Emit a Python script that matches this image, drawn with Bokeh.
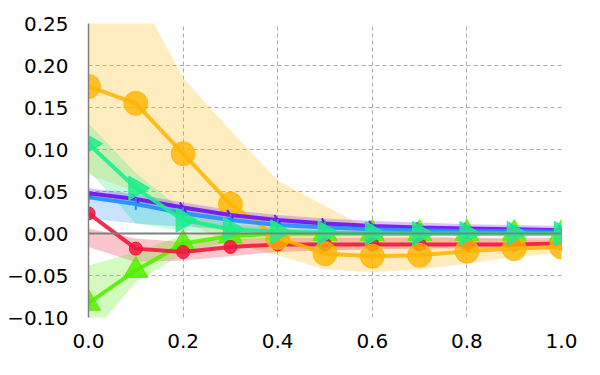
from bokeh.plotting import figure
from bokeh.embed import file_html
from bokeh.resources import INLINE
from bokeh.models import FixedTicker, CustomJSTickFormatter, Span

x = [0.0, 0.1, 0.2, 0.3, 0.4, 0.5, 0.6, 0.7, 0.8, 0.9, 1.0]

orange = [0.175, 0.155, 0.095, 0.035, -0.005, -0.024, -0.027, -0.026, -0.021, -0.018, -0.016]
orange_hi = [0.32, 0.29, 0.185, 0.123, 0.063, 0.033, 0.004, -0.003, -0.006, -0.007, -0.008]
orange_lo = [0.07, 0.05, 0.015, -0.012, -0.026, -0.043, -0.046, -0.043, -0.036, -0.028, -0.023]

red = [0.024, -0.018, -0.022, -0.016, -0.013, -0.013, -0.013, -0.013, -0.013, -0.013, -0.012]
red_hi = [0.006, -0.006, -0.01, -0.007, -0.005, -0.005, -0.005, -0.005, -0.005, -0.005, -0.005]
red_lo = [-0.016, -0.034, -0.032, -0.027, -0.022, -0.02, -0.019, -0.018, -0.018, -0.018, -0.018]

lime = [-0.083, -0.044, -0.012, -0.003, 0.0, 0.0, 0.0, 0.0, 0.0, 0.0, 0.0]
lime_hi = [-0.038, -0.022, -0.002, 0.003, 0.003, 0.002, 0.002, 0.002, 0.002, 0.002, 0.002]
lime_lo = [-0.125, -0.058, -0.024, -0.009, -0.005, -0.004, -0.003, -0.003, -0.003, -0.003, -0.003]

spring = [0.107, 0.054, 0.016, 0.005, 0.002, 0.001, 0.0, 0.0, 0.0, 0.0, 0.0]
spring_hi = [0.131, 0.072, 0.027, 0.011, 0.006, 0.004, 0.003, 0.003, 0.003, 0.003, 0.003]
spring_lo = [0.075, 0.012, 0.003, -0.001, -0.002, -0.002, -0.002, -0.002, -0.002, -0.002, -0.002]

violet = [0.048, 0.041, 0.031, 0.022, 0.016, 0.012, 0.009, 0.007, 0.006, 0.005, 0.004]
violet_hi = [0.054, 0.047, 0.037, 0.028, 0.022, 0.018, 0.015, 0.013, 0.011, 0.01, 0.009]
violet_lo = [0.042, 0.035, 0.025, 0.017, 0.011, 0.008, 0.005, 0.004, 0.003, 0.002, 0.002]

blue = [0.043, 0.035, 0.024, 0.016, 0.01, 0.007, 0.005, 0.004, 0.003, 0.003, 0.002]
blue_hi = [0.05, 0.042, 0.032, 0.023, 0.015, 0.011, 0.008, 0.006, 0.005, 0.005, 0.004]
blue_lo = [0.018, 0.012, 0.008, 0.005, 0.003, 0.002, 0.001, 0.0, 0.0, 0.0, 0.0]

x_ticks = [0.0, 0.2, 0.4, 0.6, 0.8, 1.0]
y_ticks = [-0.10, -0.05, 0.0, 0.05, 0.10, 0.15, 0.20, 0.25]

p = figure(width=592, height=367, x_range=(0, 1), y_range=(-0.10, 0.25),
           output_backend="svg", toolbar_location=None,
           min_border_left=88, min_border_right=31, min_border_top=23, min_border_bottom=50)
p.outline_line_color = None

xa = p.xaxis[0]
ya = p.yaxis[0]
xa.ticker = FixedTicker(ticks=x_ticks)
ya.ticker = FixedTicker(ticks=y_ticks)
xa.formatter = CustomJSTickFormatter(code="return tick.toFixed(1).replace('-', '\u2212');")
ya.formatter = CustomJSTickFormatter(code="return tick.toFixed(2).replace('-', '\u2212');")
for ax in (xa, ya):
    ax.major_tick_line_color = None
    ax.minor_tick_line_color = None
    ax.major_label_text_font = "DejaVu Sans"
    ax.major_label_text_font_size = "20px"
    ax.major_label_text_color = "black"
xa.axis_line_color = None
ya.axis_line_color = "#808080"
ya.axis_line_width = 1.5
xa.major_label_standoff = 10
ya.major_label_standoff = 14

p.grid.grid_line_color = "#aaaaaa"
p.grid.grid_line_dash = "4 3"
p.grid.grid_line_width = 1

p.add_layout(Span(location=0, dimension="width", line_color="#808080", line_width=2))

C_OR = "#ffb400"
C_RED = "#f0183c"
C_LIME = "#55ee00"
C_SPR = "#1aee8c"
C_VIO = "#6e10f5"
C_BLU = "#1f8fff"

# bands
p.varea(x=x, y1=orange_lo, y2=orange_hi, fill_color=C_OR, fill_alpha=0.25)
p.varea(x=x, y1=red_lo, y2=red_hi, fill_color=C_RED, fill_alpha=0.25)
p.varea(x=x, y1=lime_lo, y2=lime_hi, fill_color=C_LIME, fill_alpha=0.25)
p.varea(x=x, y1=spring_lo, y2=spring_hi, fill_color=C_SPR, fill_alpha=0.25)
p.varea(x=x, y1=violet_lo, y2=violet_hi, fill_color=C_VIO, fill_alpha=0.25)
p.varea(x=x, y1=blue_lo, y2=blue_hi, fill_color=C_BLU, fill_alpha=0.25)

# lines and markers
p.line(x, lime, line_color=C_LIME, line_width=4, line_alpha=0.9)
p.scatter(x, lime, marker="triangle", size=24, fill_color=C_LIME, line_color=C_LIME, fill_alpha=0.85)

p.line(x, red, line_color=C_RED, line_width=4, line_alpha=0.9)
p.scatter(x, red, marker="circle", size=13, fill_color=C_RED, line_color=C_RED, fill_alpha=0.85)

p.line(x, orange, line_color=C_OR, line_width=4, line_alpha=0.85)
p.scatter(x, orange, marker="circle", size=24, fill_color=C_OR, line_color=C_OR, fill_alpha=0.8, line_alpha=0.8)

p.line(x, violet, line_color=C_VIO, line_width=4, line_alpha=0.9)
p.scatter(x, violet, marker="dash", size=12, angle=-1.0, line_color=C_VIO, line_width=2)

p.line(x, blue, line_color=C_BLU, line_width=4, line_alpha=0.9)
p.scatter(x, blue, marker="dash", size=12, angle=1.5708, line_color=C_BLU, line_width=2)

p.line(x, spring, line_color=C_SPR, line_width=4, line_alpha=0.9)
p.scatter(x, spring, marker="triangle", angle=-1.5708, size=24, fill_color=C_SPR, line_color=C_SPR, fill_alpha=0.85)

open("out.html", "w").write(file_html(p, INLINE))
